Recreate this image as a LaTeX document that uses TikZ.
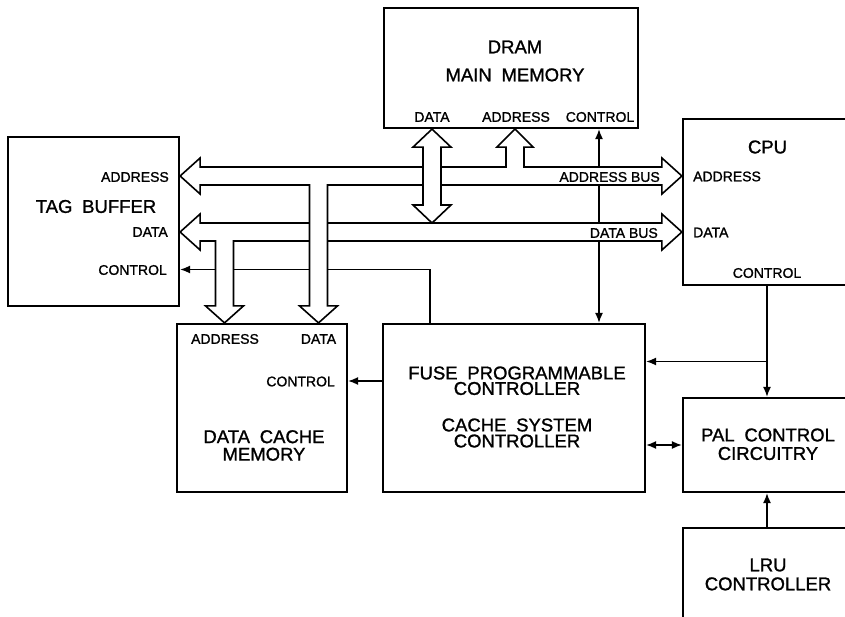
\documentclass[tikz,border=0pt]{standalone}
\usepackage{fontspec}
\setmainfont{Liberation Sans}[FakeBold=1.2]
\newfontfamily\widefont{Liberation Sans}[WordSpace=1.9,FakeBold=1.2]
\usetikzlibrary{arrows.meta,calc}

\begin{document}
\begin{tikzpicture}[x=1pt,y=-1pt]
    \tikzset{
        block/.style={draw, line width=2.2pt, inner sep=0pt},
        lbl/.style={font=\fontsize{14}{16}\selectfont, inner sep=0pt},
        title/.style={font=\widefont\fontsize{18.5}{#1}\selectfont, align=center, inner sep=0pt},
        title/.default=18,
        bus/.style={draw, fill=white, line width=1.6pt, line join=miter},
        arc/.style={line width=1.5pt, >={Latex[length=10pt,width=8pt]}}
    }
    \useasboundingbox (0,0) rectangle (845,617);
    \clip (0,0) rectangle (845,617);

    \draw node[block, minimum width=254pt, minimum height=120pt] (dram) at (511,68) {};
    \draw node[block, minimum width=171pt, minimum height=169pt] (tag) at (93.5,221.5) {};
    \draw node[block, minimum width=222pt, minimum height=166pt] (cpu) at (794,202) {};
    \draw node[block, minimum width=170pt, minimum height=168pt] (cache) at (262,408) {};
    \draw node[block, minimum width=262pt, minimum height=168pt] (fuse) at (514,408) {};
    \draw node[block, minimum width=222pt, minimum height=94pt] (pal) at (794,445) {};
    \draw node[block, minimum width=222pt, minimum height=132pt] (lru) at (794,594) {};

    \coordinate (abus) at (0,176);
    \coordinate (dbus) at (0,232);
    \coordinate (ddat) at (432,0);
    \coordinate (daddr) at (515,0);
    \coordinate (dctl) at (599,0);
    \coordinate (caddr) at (224.5,0);
    \coordinate (cdat) at (318.5,0);
    \coordinate (tctl) at (430,269.5);
    \coordinate (cctl) at (767,0);
    \coordinate (fin) at (0,361.5);
    \coordinate (cin) at (0,381);
    \coordinate (fp) at (0,445);

    \draw[arc, <->] (dram.south -| dctl) -- (fuse.north -| dctl);

    \foreach \b in {abus,dbus}{
        \draw[bus] (tag.east |- \b) -- ++(20,-18) -- ++(0,9) -- ($(cpu.west |- \b)+(-20,-9)$) -- ++(0,-9)
            -- (cpu.west |- \b) -- ++(-20,18) -- ++(0,-9) -- ($(tag.east |- \b)+(20,9)$) -- ++(0,9) -- cycle;
    }
    \draw[bus] ($(daddr |- abus)+(-9,-8.2)$) -- ($(daddr |- dram.south)+(-9,18)$) -- ++(-9,0)
        -- (daddr |- dram.south) -- ++(18,18) -- ++(-9,0) -- ($(daddr |- abus)+(9,-8.2)$);
    \draw[bus] (ddat |- dram.south) -- ++(19,18) -- ++(-10,0) -- ($(ddat |- dbus)+(9,-27)$) -- ++(10,0)
        -- ($(ddat |- dbus)+(0,-9)$) -- ++(-19,-18) -- ++(10,0) -- ($(ddat |- dram.south)+(-9,18)$) -- ++(-10,0) -- cycle;

    \draw[arc, ->] (fuse.north -| tctl) |- (tag.east |- tctl);

    \foreach \x/\b in {caddr/dbus, cdat/abus}{
        \draw[bus] ($(\x |- \b)+(-9,8.2)$) -- ($(\x |- cache.north)+(-9,-17)$) -- ++(-10,0)
            -- (\x |- cache.north) -- ++(19,-17) -- ++(-10,0) -- ($(\x |- \b)+(9,8.2)$);
    }

    \draw[arc, ->] (cpu.south -| cctl) -- (pal.north -| cctl);
    \draw[arc, ->] (cctl |- fin) -- (fuse.east |- fin);
    \draw[arc, ->] (fuse.west |- cin) -- (cache.east |- cin);
    \draw[arc, <->] (fuse.east |- fp) -- (pal.west |- fp);
    \draw[arc, ->] (lru.north -| cctl) -- (pal.south -| cctl);

    \node[title=28] (dramtxt) at (515,61) {DRAM\\MAIN MEMORY};
    \node[lbl] (dramdat) at (432,117) {DATA};
    \node[lbl] (dramadr) at (516,117) {ADDRESS};
    \node[lbl] (dramctl) at (600,117) {CONTROL};

    \node[title] (tagtxt) at (96,206.5) {TAG BUFFER};
    \node[lbl, anchor=east] (tagadr) at (169,177) {ADDRESS};
    \node[lbl, anchor=east] (tagdat) at (168,232) {DATA};
    \node[lbl, anchor=east] (tagctl) at (167,270) {CONTROL};

    \node[title] (cputxt) at (767.5,147) {CPU};
    \node[lbl, anchor=west] (cpuadr) at (693,176.5) {ADDRESS};
    \node[lbl, anchor=west] (cpudat) at (693,232.5) {DATA};
    \node[lbl] (cpuctl) at (767,273) {CONTROL};

    \node[lbl, anchor=east] (abustxt) at (660,177) {ADDRESS BUS};
    \node[lbl, anchor=east] (dbustxt) at (658,233) {DATA BUS};

    \node[lbl] (cacheadr) at (225,339) {ADDRESS};
    \node[lbl] (cachedat) at (318.5,339) {DATA};
    \node[lbl, anchor=east] (cachectl) at (335,381.5) {CONTROL};
    \node[title=17.5] (cachetxt) at (264,445.5) {DATA CACHE\\MEMORY};

    \node[title] (fusetxt) at (517,373) {FUSE PROGRAMMABLE};
    \node[title] (fusectl) at (517,388.5) {CONTROLLER};
    \node[title] (systxt) at (517,425) {CACHE SYSTEM};
    \node[title] (sysctl) at (517,441) {CONTROLLER};
    \node[title=18.5] (paltxt) at (768,444.25) {PAL CONTROL\\CIRCUITRY};
    \node[title=19] (lrutxt) at (768,574.5) {LRU\\CONTROLLER};
\end{tikzpicture}
\end{document}
